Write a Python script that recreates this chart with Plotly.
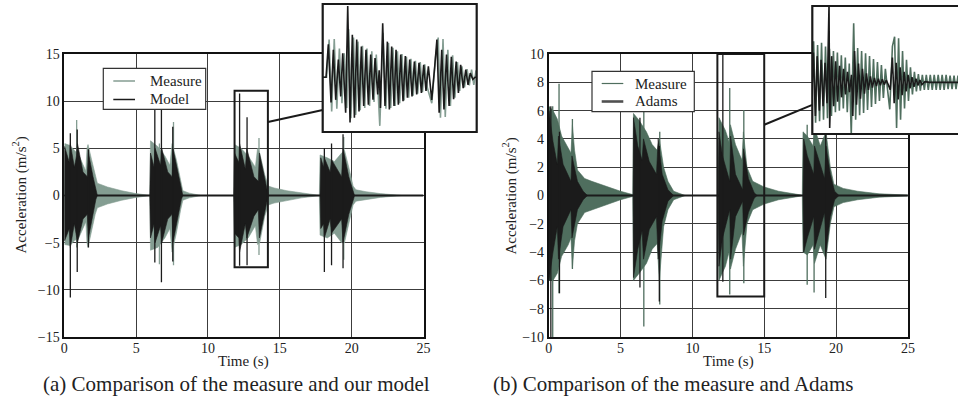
import plotly.graph_objects as go

W, H = 958, 414
FONT = "Liberation Serif"

# ---------------- data: panel (a) measure vs model ----------------
# burst envelopes (bursts separated by None)
a_measure_t = [0.0, 0.03, 0.4, 0.7, 1.0, 1.15, 1.5, 1.58, 1.65, 1.9, 2.15, 2.3, 3.0, 4.0, 5.0, 6.0, None,
               5.95, 6.0, 6.5, 7.0, 7.35, 7.5, 7.8, 8.1, 8.25, 8.7, 9.5, None,
               11.8, 11.85, 12.3, 12.8, 13.3, 13.45, 13.6, 13.95, 14.2, 14.6, 15.5, 16.5, 17.8, None,
               17.75, 17.8, 18.3, 18.8, 19.3, 19.5, 19.8, 20.1, 20.3, 21.0, 22.0, 23.5]
a_measure_up = [0, 5.5, 5.3, 4.8, 4.3, 3.8, 2.6, 5.0, 5.4, 3.8, 2.0, 1.3, 0.9, 0.5, 0.2, 0.0, None,
                0, 5.8, 5.2, 4.2, 3.2, 5.5, 3.8, 1.5, 0.5, 0.25, 0, None,
                0, 5.4, 5.0, 4.2, 3.0, 5.0, 4.5, 2.2, 1.0, 0.8, 0.5, 0.25, 0, None,
                0, 4.3, 4.0, 3.6, 4.5, 4.8, 3.0, 1.0, 0.6, 0.4, 0.2, 0]
a_measure_lo = [0, -5.2, -5.3, -4.8, -4.5, -4.0, -2.8, -5.0, -5.5, -3.8, -2.0, -1.3, -0.9, -0.5, -0.2, 0.0, None,
                0, -5.8, -5.5, -4.5, -3.5, -6.0, -4.0, -1.5, -0.5, -0.25, 0, None,
                0, -5.5, -5.2, -4.5, -3.2, -5.2, -5.0, -2.2, -1.0, -0.8, -0.5, -0.25, 0, None,
                0, -4.2, -4.5, -4.0, -5.0, -5.0, -3.0, -1.0, -0.6, -0.4, -0.2, 0]
a_measure_spike_t = [0.86, 6.62, 7.6, 13.55, 19.45]
a_measure_spike_lo = [-5.5, -7.3, -7.4, -6.3, -6.8]
a_measure_spike_hi = [8.0, 5.5, 7.8, 6.1, 6.2]

a_model_t = [0.0, 0.02, 0.35, 0.42, 0.7, 0.85, 0.92, 1.3, 1.6, 1.68, 2.0, 2.2, 2.3, None,
             5.95, 6.0, 6.25, 6.32, 6.7, 6.78, 7.2, 7.5, 7.56, 7.9, 8.15, 8.25, None,
             11.8, 11.85, 12.15, 12.2, 12.6, 12.7, 13.2, 13.5, 13.58, 13.9, 14.15, 14.2, None,
             17.8, 17.85, 18.05, 18.1, 18.5, 18.6, 19.3, 19.4, 19.8, 20.15, 20.2]
a_model_up = [0, 5.2, 3.5, 5.5, 3.0, 4.2, 5.5, 2.5, 2.0, 4.5, 2.0, 0.4, 0, None,
              0, 4.5, 3.0, 5.0, 3.2, 5.0, 2.5, 2.0, 5.0, 2.5, 0.4, 0, None,
              0, 4.5, 3.5, 5.5, 2.8, 5.0, 2.0, 1.5, 4.5, 2.0, 0.3, 0, None,
              0, 4.0, 3.0, 4.0, 2.5, 3.8, 2.0, 5.0, 2.0, 0.3, 0]
a_model_lo = [0, -4.8, -3.5, -5.5, -3.0, -4.2, -5.0, -2.5, -2.0, -4.5, -2.0, -0.4, 0, None,
              0, -4.5, -3.0, -5.0, -3.2, -5.0, -2.5, -2.0, -5.0, -2.5, -0.4, 0, None,
              0, -4.0, -4.5, -6.0, -3.0, -4.5, -2.2, -1.5, -4.5, -2.0, -0.3, 0, None,
              0, -3.5, -3.0, -4.5, -2.5, -4.0, -2.5, -5.0, -2.0, -0.3, 0]
a_model_spike_t = [0.42, 0.9, 1.68, 6.3, 6.76, 7.55, 12.2, 12.72, 18.1, 18.6, 19.4]
a_model_spike_lo = [-10.8, -8.1, -5.5, -7.1, -9.2, -7.0, -7.45, -7.4, -8.1, -7.4, -7.7]
a_model_spike_hi = [6.6, 7.0, 4.9, 10.5, 10.5, 7.3, 10.8, 8.3, 5.0, 5.5, 6.5]
a_baseline_t = [0, 25]
a_baseline_v = [0, 0]

# inset (a): zoom of third burst, successive extremes
a_inset_measure_t = [11.80, 11.86, 11.90, 11.94, 11.98, 12.02, 12.06, 12.10, 12.135, 12.175, 12.205, 12.24,
                     12.28, 12.315, 12.35, 12.385, 12.42, 12.455, 12.49, 12.53, 12.565, 12.60, 12.635, 12.69,
                     12.74, 12.785, 12.825, 12.86, 12.895, 12.93, 12.965, 13.00, 13.035, 13.07, 13.105, 13.14,
                     13.175, 13.21, 13.245, 13.28, 13.32, 13.355, 13.39, 13.43, 13.50, 13.56, 13.60, 13.635,
                     13.675, 13.71, 13.75, 13.79, 13.825, 13.86, 13.90, 13.935, 13.97, 14.01, 14.05, 14.085,
                     14.12, 14.155, 14.19]
a_inset_measure_v = [0, 0, 5.5, -5.0, 5.6, -4.6, 4.2, -3.8, 3.5, -4.5, 7.0, -6.0,
                     5.8, -5.5, 5.2, -4.8, 4.6, -4.5, 4.2, -4.2, 3.8, -3.6, 3.3, -7.1,
                     6.5, -4.6, 5.0, -4.5, 4.3, -4.2, 3.8, -3.8, 3.4, -3.4, 3.0, -3.0,
                     2.7, -2.7, 2.4, -2.4, 2.2, -2.2, 1.9, -1.5, -3.8, 3.0, 5.8, -5.9,
                     5.6, -5.8, 4.0, -4.2, 3.2, -3.0, 2.2, -2.0, 1.6, -1.5, 1.2, -1.2,
                     1.1, -1.1, 1.0]
a_inset_model_t = [11.80, 11.852, 11.888, 11.930, 11.966, 12.003, 12.044, 12.081, 12.112, 12.158, 12.190,
                   12.226, 12.262, 12.294, 12.330, 12.366, 12.403, 12.439, 12.475, 12.512, 12.548, 12.584,
                   12.616, 12.657, 12.680, 12.700, 12.735, 12.771, 12.808, 12.839, 12.875, 12.912, 12.943,
                   12.979, 13.016, 13.052, 13.088, 13.120, 13.156, 13.192, 13.229, 13.265, 13.301, 13.338,
                   13.374, 13.410, 13.447, 13.499, 13.545, 13.58, 13.615, 13.655, 13.69, 13.73, 13.77,
                   13.805, 13.84, 13.88, 13.915, 13.95, 13.99, 14.03, 14.065, 14.10, 14.14, 14.175, 14.2]
a_inset_model_v = [0, 0, 4.8, -3.7, 4.0, -3.3, 2.6, -2.8, 3.5, -5.2, 10.4,
                   -6.6, 6.2, -5.9, 5.5, -5.0, 4.5, -4.2, 4.0, -4.0, 3.3, -3.3,
                   2.8, -2.5, 1.0, -4.5, 7.9, -4.2, 5.2, -4.7, 4.5, -4.2, 4.0,
                   -4.0, 3.3, -3.5, 3.1, -3.0, 2.6, -2.8, 2.3, -2.5, 2.1, -2.3,
                   1.8, -2.0, 1.6, -3.3, 1.5, 5.5, -5.2, 4.0, -4.7, 3.3, -4.2,
                   3.0, -3.2, 2.3, -2.3, 1.8, -1.6, 1.1, -1.1, 0.6, -0.3, 0, 0]

# ---------------- data: panel (b) measure vs Adams ----------------
b_measure_t = [0.0, 0.02, 0.3, 0.6, 0.9, 1.35, 1.55, 1.65, 1.8, 2.0, 2.5, 3.0, 4.0, 5.0, 5.9, None,
               5.85, 5.9, 6.3, 6.8, 7.2, 7.55, 7.7, 8.0, 8.3, 8.7, 9.5, None,
               11.8, 11.85, 12.3, 12.55, 12.65, 13.0, 13.45, 13.55, 13.8, 14.2, 15.0, 16.0, 17.6, None,
               17.65, 17.7, 18.0, 18.4, 18.5, 18.9, 19.3, 19.6, 19.85, 20.5, 21.5, 23.0, 25.0]
b_measure_up = [0, 6.3, 6.0, 5.4, 4.2, 3.4, 3.0, 5.0, 3.2, 1.8, 1.2, 1.0, 0.65, 0.3, 0.05, None,
                0, 5.8, 5.3, 4.5, 3.6, 3.2, 4.0, 2.0, 1.0, 0.3, 0, None,
                0, 5.5, 4.6, 3.8, 5.0, 3.6, 2.5, 4.5, 2.0, 1.0, 0.6, 0.3, 0.03, None,
                0, 4.5, 4.2, 3.5, 4.8, 3.5, 4.5, 2.0, 0.8, 0.5, 0.3, 0.12, 0.03]
b_measure_lo = [0, -6.0, -6.0, -5.5, -4.3, -3.5, -3.0, -5.1, -3.2, -2.0, -1.2, -1.0, -0.65, -0.3, -0.05, None,
                0, -6.0, -5.5, -4.8, -3.8, -3.4, -6.0, -2.2, -1.0, -0.3, 0, None,
                0, -6.0, -5.0, -4.0, -5.2, -3.8, -2.6, -5.0, -2.0, -1.0, -0.6, -0.3, -0.03, None,
                0, -4.0, -4.2, -3.5, -4.8, -3.5, -4.5, -2.0, -0.8, -0.5, -0.3, -0.12, -0.03]
b_measure_spike_t = [0.28, 0.72, 1.65, 6.62, 7.73, 12.6, 13.58, 17.99, 18.47]
b_measure_spike_lo = [-10.0, -6.9, -5.2, -9.25, -7.7, -7.0, -6.2, -6.3, -6.85]
b_measure_spike_hi = [6.3, 7.9, 5.4, 6.5, 4.5, 7.6, 6.05, 5.0, 5.5]

b_adams_t = [0.0, 0.02, 0.3, 0.6, 0.68, 1.0, 1.55, 1.62, 2.0, 2.4, 2.7, None,
             5.88, 5.9, 6.2, 6.5, 6.6, 7.0, 7.5, 7.62, 7.9, 8.3, 8.7, None,
             11.8, 11.85, 12.1, 12.4, 12.6, 12.66, 13.0, 13.5, 13.56, 13.9, 14.3, 14.5, None,
             17.7, 17.75, 18.0, 18.45, 18.5, 19.2, 19.3, 19.6, 19.9, 20.2]
b_adams_up = [0, 6.0, 3.8, 2.2, 4.2, 2.2, 1.0, 2.8, 1.0, 0.3, 0, None,
              0, 5.5, 3.5, 2.5, 4.0, 2.4, 1.5, 4.0, 1.5, 0.4, 0, None,
              0, 4.5, 2.8, 1.8, 1.0, 4.2, 1.5, 0.4, 3.3, 1.2, 0.2, 0, None,
              0, 4.0, 2.8, 1.5, 3.5, 1.2, 3.5, 1.5, 0.3, 0]
b_adams_lo = [0, -6.0, -4.0, -2.2, -4.5, -2.2, -1.0, -3.0, -1.0, -0.3, 0, None,
              0, -5.8, -3.8, -2.5, -4.5, -2.4, -1.5, -4.5, -1.8, -0.4, 0, None,
              0, -5.0, -3.0, -1.8, -1.0, -4.5, -1.5, -0.4, -2.8, -1.2, -0.2, 0, None,
              0, -4.0, -3.0, -1.5, -3.8, -1.2, -4.0, -1.5, -0.3, 0]
b_adams_spike_t = [0.15, 0.75, 6.35, 7.7, 12.12, 19.28]
b_adams_spike_lo = [-10.0, -6.9, -6.5, -7.5, -6.1, -7.25]
b_adams_spike_hi = [6.3, 4.5, 5.5, 3.5, 10.0, 6.5]
b_baseline_t = [0, 25]
b_baseline_v = [0, 0]

b_inset_measure_t = [11.74, 11.77, 11.815, 11.86, 11.905, 11.95, 11.995, 12.04, 12.085, 12.13, 12.175, 12.22,
                     12.265, 12.31, 12.355, 12.40, 12.445, 12.49, 12.535, 12.58, 12.625, 12.68, 12.725, 12.77,
                     12.815, 12.86, 12.905, 12.95, 12.995, 13.04, 13.085, 13.13, 13.175, 13.22, 13.265, 13.31,
                     13.355, 13.40, 13.45, 13.50, 13.56, 13.61, 13.655, 13.70, 13.745, 13.79, 13.835, 13.88,
                     13.925, 13.97, 14.015, 14.06, 14.105, 14.15, 14.195, 14.24, 14.285, 14.33, 14.375, 14.42,
                     14.465, 14.51, 14.555, 14.60, 14.645, 14.69, 14.735, 14.78, 14.825, 14.87, 14.915, 14.96,
                     15.005, 15.05]
b_inset_measure_v = [0, 5.5, -5.4, 5.0, -5.2, 5.3, -5.0, 4.8, -4.8, 4.5, -4.5, 4.2,
                     -4.0, 4.0, -3.8, 3.6, -3.5, 3.3, -4.0, 2.5, -7.0, 7.9, -5.0, 4.6,
                     -4.4, 4.2, -4.1, 3.9, -3.7, 3.5, -3.3, 3.1, -2.9, 2.7, -2.5, 2.3,
                     -2.1, 1.8, -1.0, -3.6, 4.8, 6.1, -6.1, 5.9, -5.0, 4.2, -3.5, 3.0,
                     -2.5, 2.0, -1.6, 1.4, -1.2, 1.1, -1.1, 1.0, -1.0, 1.0, -1.0, 1.0,
                     -1.0, 1.0, -1.0, 1.0, -1.0, 1.0, -1.0, 1.0, -0.9, 0.9, -0.9, 0.9,
                     -0.9, 0.9]
b_inset_adams_t = [11.74, 11.765, 11.81, 11.85, 11.90, 11.94, 11.985, 12.03, 12.075, 12.12, 12.135, 12.18,
                   12.225, 12.27, 12.315, 12.36, 12.405, 12.45, 12.495, 12.54, 12.585, 12.63, 12.66, 12.70,
                   12.745, 12.79, 12.835, 12.88, 12.925, 12.97, 13.015, 13.06, 13.105, 13.15, 13.195, 13.24,
                   13.285, 13.33, 13.375, 13.42, 13.465, 13.51, 13.56, 13.60, 13.645, 13.69, 13.735, 13.78,
                   13.825, 13.87, 13.915, 13.96, 14.005, 14.05, 14.095, 14.14, 14.185, 14.23, 14.3, 14.4, 15.05]
b_inset_adams_v = [0, 4.0, -4.5, 3.5, -3.8, 3.0, -3.2, 2.6, -2.8, 10.5, -6.1, 3.5,
                   -3.2, 2.8, -2.6, 2.2, -2.0, 1.8, -1.6, 1.4, -1.3, 1.0, -4.5, 4.2,
                   -3.0, 2.5, -2.2, 1.8, -1.5, 1.2, -1.0, 0.8, -0.7, 0.6, -0.5, 0.5,
                   -0.4, 0.4, -0.3, 0.3, -0.3, -1.0, 3.3, -2.8, 2.6, -2.3, 2.0, -1.7,
                   1.4, -1.2, 1.0, -0.8, 0.7, -0.6, 0.5, -0.4, 0.3, -0.3, 0.1, 0, 0]

a_legend_labels = ["Measure", "Model"]
b_legend_labels = ["Measure", "Adams"]

# ---------------- styling / layout constants ----------------
C_MEAS_A = "#849d92"
C_MEAS_B = "#4f6e5e"
C_BLACK = "#1b1b1b"
C_GRID = "#3c3c3c"
C_TEXT = "#222222"

# pixel geometry
A_X0, A_X1 = 64.3, 423.5
B_X0, B_X1 = 548.7, 907.9
P_Y0, P_Y1 = 54.0, 337.0          # top, bottom (px)
IA = dict(x0=322.7, x1=476.7, y0=4.0, y1=132.0, xr=[11.8, 14.2], yr=[-8.0, 10.7])
IB = dict(x0=812.3, x1=958.0, y0=6.0, y1=134.0, xr=[11.74, 15.05], yr=[-6.9, 10.2])
BOX_A = dict(t0=11.85, t1=14.17, v0=-7.6, v1=11.1, vc=7.8, inset_v=-4.8)
BOX_B = dict(t0=11.74, t1=15.0, v0=-7.13, v1=10.0, vc=5.0, inset_v=-3.0)
LEG_A = dict(x0=103.3, x1=205.7, y0=68.3, y1=109.3, lx0=113.3, lx1=135.0, tx=147.7, rows=[81.0, 99.5],
             colors=[C_MEAS_A, C_BLACK], widths=[1.5, 1.5])
LEG_B = dict(x0=592.0, x1=694.3, y0=71.3, y1=111.7, lx0=601.7, lx1=623.3, tx=632.7, rows=[83.5, 101.5],
             colors=[C_MEAS_B, "#505050"], widths=[1.2, 2.6])
CAPTIONS = [("(a) Comparison of the measure and our model", 236), ("(b) Comparison of the measure and Adams", 673)]


def px(x):
    return x / W


def py(y):
    return 1 - y / H


def polygon(t, up, lo):
    xs, ys = [], []
    st, su, sl = [], [], []
    for ti, ui, li in zip(list(t) + [None], list(up) + [None], list(lo) + [None]):
        if ti is None:
            if st:
                xs += st + st[::-1] + [st[0], None]
                ys += su + sl[::-1] + [su[0], None]
            st, su, sl = [], [], []
        else:
            st.append(ti)
            su.append(ui)
            sl.append(li)
    return xs, ys


def spikes(t, lo, hi):
    xs, ys = [], []
    for ti, l, h in zip(t, lo, hi):
        xs += [ti, ti, None]
        ys += [l, h, None]
    return xs, ys


fig = go.Figure()


def add_panel(xa, ya, meas, model, mspk, ospk, base, cmeas, cmodel):
    x, y = polygon(*meas)
    fig.add_trace(go.Scatter(x=x, y=y, fill="toself", fillcolor=cmeas, mode="lines",
                             line=dict(color=cmeas, width=0.6), xaxis=xa, yaxis=ya,
                             showlegend=False, hoverinfo="skip"))
    x, y = spikes(*mspk)
    fig.add_trace(go.Scatter(x=x, y=y, mode="lines", line=dict(color=cmeas, width=1.3),
                             xaxis=xa, yaxis=ya, showlegend=False, hoverinfo="skip"))
    fig.add_trace(go.Scatter(x=base[0], y=base[1], mode="lines", line=dict(color=cmodel, width=2),
                             xaxis=xa, yaxis=ya, showlegend=False, hoverinfo="skip"))
    x, y = polygon(*model)
    fig.add_trace(go.Scatter(x=x, y=y, fill="toself", fillcolor=cmodel, mode="lines",
                             line=dict(color=cmodel, width=0.6), xaxis=xa, yaxis=ya,
                             showlegend=False, hoverinfo="skip"))
    x, y = spikes(*ospk)
    fig.add_trace(go.Scatter(x=x, y=y, mode="lines", line=dict(color=cmodel, width=1.3),
                             xaxis=xa, yaxis=ya, showlegend=False, hoverinfo="skip"))


add_panel("x", "y", (a_measure_t, a_measure_up, a_measure_lo), (a_model_t, a_model_up, a_model_lo),
          (a_measure_spike_t, a_measure_spike_lo, a_measure_spike_hi),
          (a_model_spike_t, a_model_spike_lo, a_model_spike_hi),
          (a_baseline_t, a_baseline_v), C_MEAS_A, C_BLACK)
add_panel("x2", "y2", (b_measure_t, b_measure_up, b_measure_lo), (b_adams_t, b_adams_up, b_adams_lo),
          (b_measure_spike_t, b_measure_spike_lo, b_measure_spike_hi),
          (b_adams_spike_t, b_adams_spike_lo, b_adams_spike_hi),
          (b_baseline_t, b_baseline_v), C_MEAS_B, C_BLACK)

# insets
for (t, v, c, xa, ya) in ((a_inset_measure_t, a_inset_measure_v, C_MEAS_A, "x3", "y3"),
                          (a_inset_model_t, a_inset_model_v, C_BLACK, "x3", "y3"),
                          (b_inset_measure_t, b_inset_measure_v, C_MEAS_B, "x4", "y4"),
                          (b_inset_adams_t, b_inset_adams_v, C_BLACK, "x4", "y4")):
    fig.add_trace(go.Scatter(x=t, y=v, mode="lines", line=dict(color=c, width=1.6), xaxis=xa, yaxis=ya,
                             showlegend=False, hoverinfo="skip"))

tickfont = dict(family=FONT, size=14, color=C_TEXT)
main_ax = dict(showgrid=True, gridcolor=C_GRID, gridwidth=1, zeroline=False, showline=True,
               mirror=True, linecolor="#111", linewidth=1.6, ticks="", tickfont=tickfont, automargin=False)
inset_ax = dict(showgrid=False, zeroline=False, showline=False, showticklabels=False, ticks="",
                automargin=False)

fig.update_layout(
    width=W, height=H, margin=dict(l=0, r=0, t=0, b=0, pad=0, autoexpand=False),
    paper_bgcolor="white", plot_bgcolor="white", showlegend=False,
    xaxis=dict(domain=[px(A_X0), px(A_X1)], range=[0, 25], tickvals=[0, 5, 10, 15, 20, 25],
               ticklabelstandoff=-3, **main_ax),
    yaxis=dict(domain=[py(P_Y1), py(P_Y0)], range=[-15, 15], tickvals=[-15, -10, -5, 0, 5, 10, 15], **main_ax),
    xaxis2=dict(domain=[px(B_X0), px(B_X1)], range=[0, 25], tickvals=[0, 5, 10, 15, 20, 25], anchor="y2",
                ticklabelstandoff=-3, **main_ax),
    yaxis2=dict(domain=[py(P_Y1), py(P_Y0)], range=[-10, 10], tickvals=list(range(-10, 11, 2)), anchor="x2", **main_ax),
    xaxis3=dict(domain=[px(IA["x0"]), px(IA["x1"])], range=IA["xr"], anchor="y3", **inset_ax),
    yaxis3=dict(domain=[py(IA["y1"]), py(IA["y0"])], range=IA["yr"], anchor="x3", **inset_ax),
    xaxis4=dict(domain=[px(IB["x0"]), px(IB["x1"])], range=IB["xr"], anchor="y4", **inset_ax),
    yaxis4=dict(domain=[py(IB["y1"]), py(IB["y0"])], range=IB["yr"], anchor="x4", **inset_ax),
)

# zoom boxes, inset frames, connectors, legend boxes
shapes = []
for xa, ya, box in (("x", "y", BOX_A), ("x2", "y2", BOX_B)):
    shapes.append(dict(type="rect", xref=xa, yref=ya, x0=box["t0"], x1=box["t1"], y0=box["v0"], y1=box["v1"],
                       line=dict(color="#1a1a1a", width=2), layer="above"))
for ins, ext in ((IA, 0), (IB, 6)):
    shapes.append(dict(type="rect", xref="paper", yref="paper", x0=px(ins["x0"]), x1=px(ins["x1"] + ext),
                       y0=py(ins["y1"]), y1=py(ins["y0"]), line=dict(color="#1a1a1a", width=2.2), layer="above"))


def data_to_px(xv, yv, x0, x1, xr, y0, y1, yr):
    X = x0 + (xv - xr[0]) / (xr[1] - xr[0]) * (x1 - x0)
    Y = y1 - (yv - yr[0]) / (yr[1] - yr[0]) * (y1 - y0)
    return X, Y


for (X0, X1, yr_main, box, ins) in ((A_X0, A_X1, [-15, 15], BOX_A, IA), (B_X0, B_X1, [-10, 10], BOX_B, IB)):
    sx, sy = data_to_px(box["t1"], box["vc"], X0, X1, [0, 25], P_Y0, P_Y1, yr_main)
    ex, ey = data_to_px(ins["xr"][0], box["inset_v"], ins["x0"], ins["x1"], ins["xr"], ins["y0"], ins["y1"], ins["yr"])
    shapes.append(dict(type="line", xref="paper", yref="paper", x0=px(sx), y0=py(sy), x1=px(ex), y1=py(ey),
                       line=dict(color="#1a1a1a", width=2), layer="above"))

ann = []
for leg, labels in ((LEG_A, a_legend_labels), (LEG_B, b_legend_labels)):
    shapes.append(dict(type="rect", xref="paper", yref="paper", x0=px(leg["x0"]), x1=px(leg["x1"]),
                       y0=py(leg["y1"]), y1=py(leg["y0"]), fillcolor="white",
                       line=dict(color="#333", width=1.2), layer="above"))
    for ry, c, w, lab in zip(leg["rows"], leg["colors"], leg["widths"], labels):
        shapes.append(dict(type="line", xref="paper", yref="paper", x0=px(leg["lx0"]), x1=px(leg["lx1"]),
                           y0=py(ry), y1=py(ry), line=dict(color=c, width=w), layer="above"))
        ann.append(dict(text=lab, x=px(leg["tx"]), y=py(ry), xref="paper", yref="paper", showarrow=False,
                        xanchor="left", yanchor="middle", font=dict(family=FONT, size=15, color=C_TEXT)))
fig.update_layout(shapes=shapes)

# titles and captions
for cx in ((A_X0 + A_X1) / 2, (B_X0 + B_X1) / 2):
    ann.append(dict(text="Time (s)", x=px(cx), y=py(361), xref="paper", yref="paper", showarrow=False,
                    font=dict(family=FONT, size=15, color=C_TEXT), xanchor="center", yanchor="middle"))
for cx in (20, 510):
    ann.append(dict(text="Acceleration (m/s<sup>2</sup>)", x=px(cx), y=py((P_Y0 + P_Y1) / 2), xref="paper",
                    yref="paper", showarrow=False, textangle=-90,
                    font=dict(family=FONT, size=15, color=C_TEXT), xanchor="center", yanchor="middle"))
for text, cx in CAPTIONS:
    ann.append(dict(text=text, x=px(cx), y=py(384), xref="paper", yref="paper", showarrow=False,
                    xanchor="center", yanchor="middle", font=dict(family=FONT, size=21, color=C_TEXT)))
fig.update_layout(annotations=ann)

fig.write_html("out.html")
